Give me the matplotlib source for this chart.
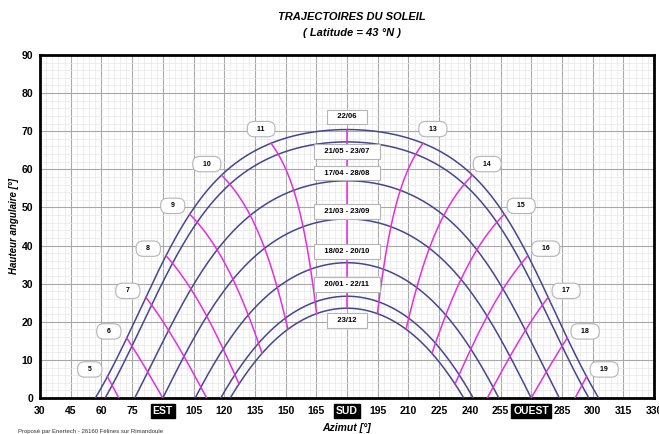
import numpy as np
import matplotlib
matplotlib.use("Agg")
import matplotlib.pyplot as plt
from matplotlib.ticker import MultipleLocator

plt.rcParams['font.family'] = ['Liberation Sans', 'DejaVu Sans']

# data
latitude = 43.0
date_labels = ["22/06", "21/05 - 23/07", "17/04 - 28/08", "21/03 - 23/09",
               "18/02 - 20/10", "20/01 - 22/11", "23/12"]
declinations = [23.44, 20.2, 10.0, 0.0, -11.5, -20.3, -23.44]
hours = list(range(5, 20))
x_ticks = list(range(30, 331, 15))
x_special = {90: "EST", 180: "SUD", 270: "OUEST"}

# label placement (layout only)
date_label_dy = [3.3, -2.5, 2.0, 2.0, 3.0, 3.0, -3.3]

CURVE = "#464590"
HOUR = "#e42ee4"


def sun_pos(decl, hour_angle):
    phi = np.radians(latitude)
    d = np.radians(decl)
    h = np.radians(hour_angle)
    alt = np.degrees(np.arcsin(np.sin(phi) * np.sin(d) + np.cos(phi) * np.cos(d) * np.cos(h)))
    az = 180 + np.degrees(np.arctan2(np.sin(h), np.cos(h) * np.sin(phi) - np.tan(d) * np.cos(phi)))
    return az, alt


fig = plt.figure(figsize=(6.59, 4.34), dpi=100)
ax = fig.add_axes([40 / 659, 1 - 398 / 434, 614 / 659, 343 / 434])
ax.set_xlim(30, 330)
ax.set_ylim(0, 90)

ax.xaxis.set_major_locator(MultipleLocator(15))
ax.xaxis.set_minor_locator(MultipleLocator(3))
ax.yaxis.set_major_locator(MultipleLocator(10))
ax.yaxis.set_minor_locator(MultipleLocator(2))
ax.grid(which='major', color='#a8a8a8', lw=0.8)
ax.grid(which='minor', color='#e6e6e6', lw=0.5)
ax.set_axisbelow(True)

# date curves
H = np.linspace(-180, 180, 2000)
for d in declinations:
    az, alt = sun_pos(d, H)
    m = alt >= 0
    ax.plot(az[m], alt[m], color=CURVE, lw=1.1, zorder=3)

# hour lines
D = np.linspace(min(declinations), max(declinations), 400)
for h in hours:
    az, alt = sun_pos(D, 15 * (h - 12))
    m = alt >= 0
    ax.plot(az[m], alt[m], color=HOUR, lw=1.1, zorder=4)

# hour labels next to the 22/06 curve
fig.canvas.draw()
top = max(declinations)
for h in hours:
    if h == 12:
        continue
    ha = 15 * (h - 12)
    a0, b0 = sun_pos(top, ha)
    pa = ax.transData.transform(sun_pos(top, ha - 1))
    pb = ax.transData.transform(sun_pos(top, ha + 1))
    t = (pb - pa) / np.hypot(*(pb - pa))
    n = np.array([-t[1], t[0]])
    if n[1] < 0:
        n = -n
    off = n * 11 + np.array([-3 if h < 12 else 3, 0])
    ax.annotate(f"   {h}   ", (a0, b0), xytext=off, textcoords='offset points',
                ha='center', va='center', fontsize=5, fontweight='bold', zorder=6,
                bbox=dict(boxstyle='round,pad=0.6,rounding_size=1.0', fc='white',
                          ec='#b5b5b5', lw=0.8))

# date labels at noon
for lbl, d, dy in zip(date_labels, declinations, date_label_dy):
    _, alt_noon = sun_pos(d, 0.0)
    ax.text(180, alt_noon + dy, f"   {lbl}   ", ha='center', va='center', fontsize=5.5,
            fontweight='bold', zorder=6,
            bbox=dict(boxstyle='square,pad=0.5', fc='white', ec='#b5b5b5', lw=0.8))

for s in ax.spines.values():
    s.set_linewidth(2)
    s.set_color('black')

ax.set_xticks(x_ticks)
ax.set_xticklabels([x_special.get(v, str(v)) for v in x_ticks])
ax.tick_params(which='both', length=0)
ax.tick_params(axis='x', pad=6)
ax.tick_params(axis='y', pad=5)
for lab in ax.get_xticklabels() + ax.get_yticklabels():
    lab.set_fontsize(7.5)
    lab.set_fontweight('bold')
for lab, v in zip(ax.get_xticklabels(), x_ticks):
    if v in x_special:
        lab.set_color('white')
        lab.set_bbox(dict(boxstyle='square,pad=0.2', fc='black', ec='black'))

ax.set_xlabel("Azimut [°]", fontsize=7.5, fontweight='bold', style='italic', labelpad=5)
ax.set_ylabel("Hauteur angulaire [°]", fontsize=7, fontweight='bold', style='italic', labelpad=2)

fig.text(0.534, 1 - 17 / 434, "TRAJECTOIRES DU SOLEIL", ha='center', va='center',
         fontsize=8, fontweight='bold', style='italic')
fig.text(0.534, 1 - 33 / 434, "( Latitude = 43 °N )", ha='center', va='center',
         fontsize=8, fontweight='bold', style='italic')
fig.text(18 / 659, 1 - 431 / 434, "Proposé par Enertech - 26160 Félines sur Rimandoule",
         ha='left', va='center', fontsize=4.3, color='#333333')

fig.savefig("out.png", dpi=100)
